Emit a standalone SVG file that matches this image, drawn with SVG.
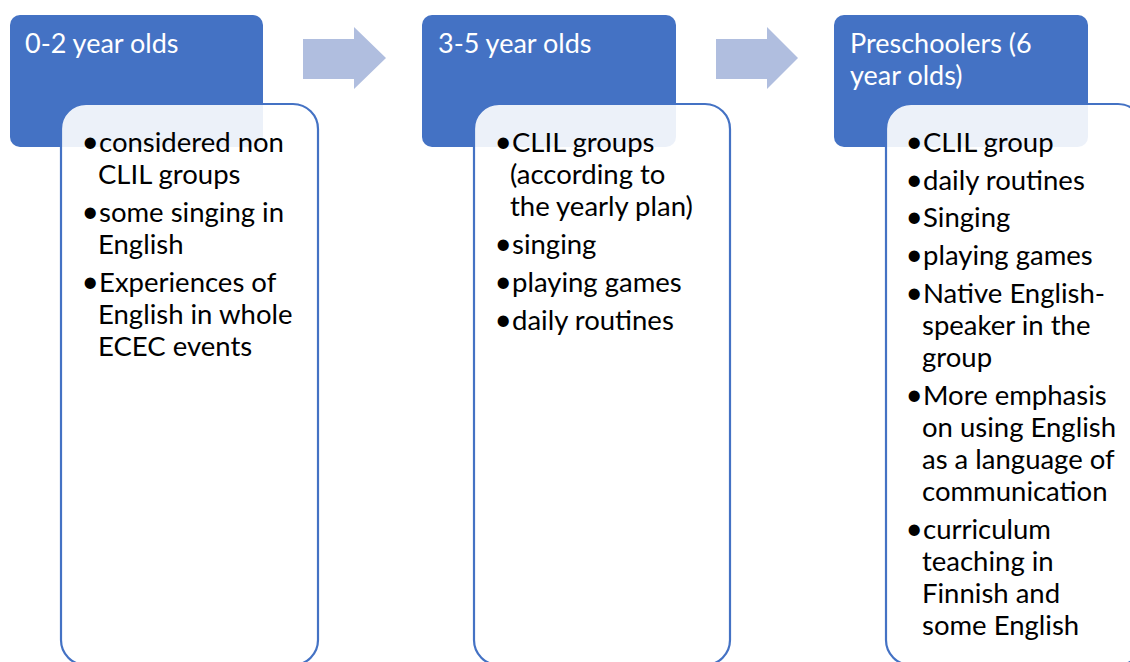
<svg xmlns="http://www.w3.org/2000/svg" width="1130" height="662" viewBox="0 0 1130 662">
  <style>
    .hdr { fill: #4472C4; }
    .body { fill: #FFFFFF; fill-opacity: 0.9; stroke: #4472C4; stroke-width: 2.2; }
    .arrow { fill: #B0BEDF; }
    .ht { font-family: Lato, "Liberation Sans", sans-serif; font-size: 27px; fill: #FFFFFF; }
    .bt { font-family: Lato, "Liberation Sans", sans-serif; font-size: 27.5px; fill: #000000; }
    .bu { text-anchor: end; font-size: 30px; }
  </style>
  <rect width="1130" height="662" fill="#FFFFFF"/>
  <g id="connectors">
    <polygon class="arrow" points="303,39 354,39 354,27 386,58 354,89 354,79 303,79"/>
    <polygon class="arrow" points="716,39 767,39 767,27 798,58 767,89 767,79 716,79"/>
  </g>
  <g id="node1">
    <rect class="hdr" x="10" y="15" width="253" height="132" rx="10"/>
    <text class="ht" x="25" y="53">0-2 year olds</text>
    <rect class="body" x="61" y="104" width="257" height="561" rx="25"/>
    <g class="bt">
      <text class="bu" x="99" y="152">•</text><text x="99" y="152">considered non</text>
      <text x="98" y="184">CLIL groups</text>
      <text class="bu" x="99" y="222">•</text><text x="99" y="222">some singing in</text>
      <text x="98" y="254">English</text>
      <text class="bu" x="99" y="292">•</text><text x="99" y="292">Experiences of</text>
      <text x="98" y="324">English in whole</text>
      <text x="98" y="356">ECEC events</text>
    </g>
  </g>
  <g id="node2">
    <rect class="hdr" x="422" y="15" width="254" height="132" rx="10"/>
    <text class="ht" x="438" y="53">3-5 year olds</text>
    <rect class="body" x="474" y="104" width="256" height="561" rx="25"/>
    <g class="bt">
      <text class="bu" x="512" y="152">•</text><text x="512" y="152">CLIL groups</text>
      <text x="510" y="184">(according to</text>
      <text x="510" y="216">the yearly plan)</text>
      <text class="bu" x="512" y="254">•</text><text x="512" y="254">singing</text>
      <text class="bu" x="512" y="292">•</text><text x="512" y="292">playing games</text>
      <text class="bu" x="512" y="330">•</text><text x="512" y="330">daily routines</text>
    </g>
  </g>
  <g id="node3">
    <rect class="hdr" x="834" y="15" width="254" height="132" rx="10"/>
    <text class="ht" x="850" y="53">Preschoolers (6</text>
    <text class="ht" x="850" y="85">year olds)</text>
    <rect class="body" x="886" y="104" width="257" height="561" rx="25"/>
    <g class="bt">
      <text class="bu" x="923" y="152">•</text><text x="923" y="152">CLIL group</text>
      <text class="bu" x="923" y="190">•</text><text x="923" y="190">daily routines</text>
      <text class="bu" x="923" y="227">•</text><text x="923" y="227">Singing</text>
      <text class="bu" x="923" y="265">•</text><text x="923" y="265">playing games</text>
      <text class="bu" x="923" y="303">•</text><text x="923" y="303">Native English-</text>
      <text x="922" y="335">speaker in the</text>
      <text x="922" y="367">group</text>
      <text class="bu" x="923" y="405">•</text><text x="923" y="405">More emphasis</text>
      <text x="922" y="437">on using English</text>
      <text x="922" y="469">as a language of</text>
      <text x="922" y="501">communication</text>
      <text class="bu" x="923" y="539">•</text><text x="923" y="539">curriculum</text>
      <text x="922" y="571">teaching in</text>
      <text x="922" y="603">Finnish and</text>
      <text x="922" y="635">some English</text>
    </g>
  </g>
</svg>
